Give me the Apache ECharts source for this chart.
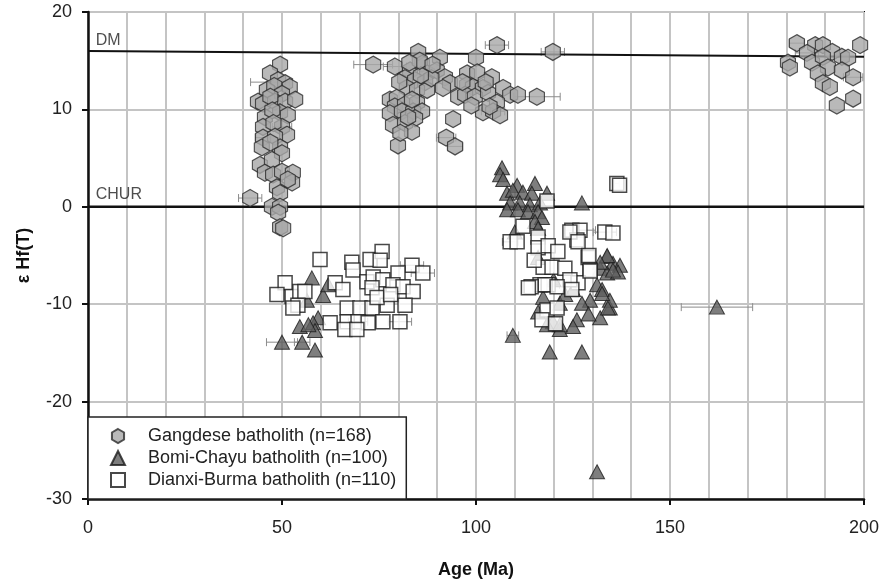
<!DOCTYPE html>
<html>
<head>
<meta charset="utf-8">
<script src="https://cdn.jsdelivr.net/npm/echarts@6/dist/echarts.min.js"></script>
<style>
  html, body { margin: 0; padding: 0; background: #fff; }
  #chart { width: 884px; height: 579px; }
</style>
</head>
<body>
<div id="chart"></div>
<script>
// age (Ma), eHf(T)
var gangdese = [
  [49.5,14.6],[46.9,13.7],[49,13.0],[50.8,12.7],[52,12.3],[46.1,12.0],[48,12.4],[50,11.6],
  [43.8,10.8],[45.1,10.6],[48.2,10.8],[50.8,10.8],[53.4,11.0],[47,11.3],
  [45.6,9.2],[49.5,9.7],[51.5,9.4],[47.5,9.9],[45.1,8.2],[50,8.2],[51.3,7.4],[47.8,8.6],
  [45.1,7.1],[48.2,7.2],[44.8,6.1],[49.5,6.1],[50,5.5],[47,6.6],
  [44.3,4.3],[47.4,4.8],[45.6,3.5],[47.7,3.3],[50,3.6],[52.8,3.5],[52.6,2.5],[48.7,2.0],
  [49.5,1.4],[41.8,0.9],[47.4,0.0],[49.5,0.0],[49,-0.6],[49.5,-2.1],[50.3,-2.2],[51.5,2.8],
  [73.5,14.6],[79.1,14.4],[85.1,15.9],[90.7,15.3],[100,15.3],[105.4,16.6],[119.8,15.9],
  [83,14.0],[86.1,14.7],[87.4,13.7],[89.9,14.0],[92,13.3],[93.3,12.7],[81.7,13.2],[84.3,13.0],
  [86.9,12.8],[82.2,12.2],[84.8,12.0],[87.4,12.0],[97.7,13.7],[100.3,13.8],[104.1,13.3],
  [97.7,12.5],[99.2,12.3],[101.8,12.2],[95.4,11.3],[97.2,11.5],[99.7,11.3],[103.1,11.7],
  [107,12.2],[108.8,11.5],[110.8,11.5],[115.7,11.3],[105.4,10.7],[101.8,9.7],[104.4,9.8],
  [106.2,9.4],[77.8,11.0],[79.6,11.2],[79.1,10.3],[81.7,10.5],[84.8,10.7],[77.8,9.6],
  [80.9,9.8],[83.8,9.8],[86.1,9.8],[78.6,8.4],[81.7,8.6],[84.3,9.1],[83.5,7.7],[79.9,6.3],
  [94.1,9.0],[92.3,7.1],[94.6,6.2],[88.5,13.2],[83.5,11.0],[85.8,13.5],
  [85.5,15.0],[88.8,14.6],[91.5,12.2],[80.2,12.8],[82.8,14.8],[96.5,12.8],[102.5,12.8],
  [98.8,10.4],[103.5,10.3],[80.5,7.6],[82.5,9.2],
  [182.7,16.8],[187.4,16.6],[189.4,16.6],[199,16.6],[185.3,15.8],[191.8,15.9],[194.3,15.4],
  [195.9,15.3],[180.4,14.8],[180.9,14.3],[186.6,14.8],[189.4,15.4],[190.7,14.3],[194.3,14.0],
  [188.1,13.7],[197.2,13.3],[189.4,12.7],[191.2,12.3],[197.2,11.1],[193,10.4]
];
var bomiChayu = [
  [106.7,4.0],[106.2,3.3],[107,2.8],[110.6,2.2],[115.2,2.4],[108,1.4],[109.5,1.7],[112.1,1.5],
  [114.4,1.4],[118.3,1.4],[108.8,0.4],[111.3,0.4],[113.9,0.2],[116.5,0.4],[127.3,0.4],
  [108,-0.3],[110.8,-0.3],[113.4,-0.5],[116,-0.5],[117,-1.1],[115.2,-1.5],[116,-2.2],
  [110,-2.6],[116,-5.2],[133.8,-5.1],[135.3,-5.8],[137.1,-6.0],[132,-6.3],[133.8,-6.8],
  [136.6,-6.7],[117.3,-9.3],[131.2,-8.0],[132.5,-8.5],[121.6,-9.9],[116,-10.8],[119.8,-11.8],
  [121.6,-12.6],[126,-11.6],[125,-12.3],[132,-11.4],[134.5,-10.4],[134.5,-9.6],[132.5,-8.9],
  [129.4,-9.6],[127.3,-9.9],[109.5,-13.2],[119,-14.9],[127.3,-14.9],[162.1,-10.3],[131.2,-27.2],
  [133.8,-5.0],[132,-5.7],[135.3,-6.5],[134,-10.4],[121.6,-12.1],[118.3,-12.1],
  [120,-7.5],[123,-9.0],[125,-8.5],[129,-11.0],
  [57.7,-7.3],[60.6,-9.1],[61.9,-8.0],[59.3,-11.4],[58,-11.9],[54.6,-12.3],[58.5,-12.7],
  [50,-13.9],[55.2,-13.9],[58.5,-14.7],[56.4,-9.6],[56.8,-12.1]
];
var dianxiBurma = [
  [59.8,-5.4],[50.8,-7.8],[48.7,-9.0],[52.6,-9.2],[54.6,-8.7],[55.9,-8.7],[54.1,-10.1],
  [52.8,-10.4],[63.7,-7.8],[65.7,-8.5],[68,-5.7],[68.3,-6.5],[72.7,-5.4],[75.8,-4.6],
  [75.3,-5.5],[83.5,-6.0],[86.3,-6.8],[79.9,-6.8],[71.9,-7.7],[73.5,-7.2],[76,-7.5],
  [78.6,-8.0],[73.2,-8.3],[81.2,-8.2],[83.8,-8.7],[66.8,-10.4],[70.1,-10.4],[73.2,-10.4],
  [77.1,-10.1],[81.7,-10.1],[62.4,-11.9],[66.8,-11.8],[69.6,-11.8],[72.2,-11.9],[76,-11.8],
  [80.4,-11.8],[66.2,-12.6],[69.3,-12.6],[74.5,-9.3],[78,-9.0],
  [136.3,2.4],[137,2.2],[118.3,0.6],[112.1,-2.0],[108.8,-3.6],[110.6,-3.6],[116,-3.1],
  [116,-4.2],[118.6,-4.0],[121.1,-4.6],[124.7,-2.4],[126.8,-2.4],[126,-3.4],[133.2,-2.6],
  [135.3,-2.7],[128.9,-5.2],[117.3,-6.2],[119.6,-6.2],[122.9,-6.3],[129.4,-6.5],[116.5,-8.0],
  [118.6,-8.0],[126.3,-7.8],[124.2,-7.5],[124.2,-2.6],[126.3,-3.6],[129.1,-5.0],[129.4,-6.6],
  [117.8,-8.0],[120.9,-8.2],[124.7,-8.5],[118.3,-10.6],[120.9,-10.4],[114.2,-8.2],
  [117,-11.6],[113.5,-8.3],[120.5,-12.0],[115,-5.5]
];
// horizontal 2-sigma error bars: age, eHf, +/- Ma
var gangdeseErr = [[41.8,0.9,3],[46.9,12.8,5],[73.5,14.6,5],[115.7,11.3,6],[105.4,16.6,3],
  [119.8,15.9,3],[182.7,16.8,2],[79.1,14.4,3],[92.3,7.1,2.5],[94.6,6.2,2],[104.4,9.8,3],
  [50,8.2,2.5],[45.1,7.1,2],[185.3,15.8,3],[197.2,13.3,2.5]];
var bomiErr = [[162.1,-10.3,9.2],[50,-13.9,4],[109.5,-13.2,1.5],[55.2,-13.9,2]];
var dianxiErr = [[136.3,2.4,0.6],[126.8,-2.4,4],[133.2,-2.6,3],[118,-8,3.5],[83.5,-6.0,3],
  [86.3,-6.8,3],[69.6,-11.8,2.5],[80.4,-11.8,3],[108.8,-3.6,2]];
var dmLine = [[0,16],[200,15.4]];
var churLine = [[0,0],[200,0]];
var refLabels = [[2,17.1,'DM'],[2,1.3,'CHUR']];
var seriesNames = ['Gangdese batholith (n=168)','Bomi-Chayu batholith (n=100)','Dianxi-Burma batholith (n=110)'];

var hexagon = 'path://M0,-1L0.866,-0.5L0.866,0.5L0,1L-0.866,0.5L-0.866,-0.5Z';
var chart;

function errBars(data) {
  return {
    type: 'custom',
    silent: true,
    z: 1,
    data: data,
    renderItem: function (params, api) {
      var x = api.value(0), y = api.value(1), e = api.value(2);
      var a = api.coord([x - e, y]);
      var b = api.coord([x + e, y]);
      var st = { stroke: '#8c8c8c', lineWidth: 1 };
      return {
        type: 'group',
        children: [
          { type: 'line', shape: { x1: a[0], y1: a[1], x2: b[0], y2: b[1] }, style: st },
          { type: 'line', shape: { x1: a[0], y1: a[1] - 4, x2: a[0], y2: a[1] + 4 }, style: st },
          { type: 'line', shape: { x1: b[0], y1: b[1] - 4, x2: b[0], y2: b[1] + 4 }, style: st }
        ]
      };
    }
  };
}

function initChart() {
  chart = echarts.init(document.getElementById('chart'));
  var font = 'Liberation Sans, Arial, sans-serif';
  var option = {
    animation: false,
    backgroundColor: '#fff',
    textStyle: { fontFamily: font },
    grid: {
      left: 88, right: 20, top: 12, bottom: 80,
      containLabel: false, outerBoundsMode: 'none',
      show: true, borderColor: '#111', borderWidth: 2, backgroundColor: 'transparent'
    },
    legend: {
      data: seriesNames,
      orient: 'vertical',
      left: 88, top: 417,
      backgroundColor: '#fff',
      borderColor: '#222', borderWidth: 1.5, borderRadius: 0,
      padding: [8, 10, 8, 22],
      itemGap: 0,
      itemWidth: 14, itemHeight: 14,
      textStyle: { fontSize: 18, color: '#222', lineHeight: 22, padding: [0, 0, 0, 18], fontFamily: font }
    },
    xAxis: {
      type: 'value',
      min: 0, max: 200, interval: 50,
      name: 'Age (Ma)',
      nameLocation: 'middle',
      nameGap: 62,
      nameTextStyle: { fontSize: 18, fontWeight: 'bold', color: '#111' },
      axisLine: { show: true, onZero: false, lineStyle: { color: '#111', width: 2.5 } },
      axisTick: { show: true, length: 6, lineStyle: { color: '#111', width: 2 } },
      axisLabel: { fontSize: 18, color: '#222', margin: 20 },
      splitLine: { show: true, lineStyle: { color: '#c4c4c4', width: 2 } },
      minorTick: { show: false, splitNumber: 5 },
      minorSplitLine: { show: true, lineStyle: { color: '#c4c4c4', width: 2 } }
    },
    yAxis: {
      type: 'value',
      min: -30, max: 20, interval: 10,
      name: 'ε Hf(T)',
      nameLocation: 'middle',
      nameGap: 55,
      nameTextStyle: { fontSize: 18, fontWeight: 'bold', color: '#111' },
      axisLine: { show: true, onZero: false, lineStyle: { color: '#111', width: 2.5 } },
      axisTick: { show: true, length: 6, lineStyle: { color: '#111', width: 2 } },
      axisLabel: { fontSize: 18, color: '#222', margin: 16 },
      splitLine: { show: true, lineStyle: { color: '#c4c4c4', width: 2 } }
    },
    series: [
      errBars(gangdeseErr),
      errBars(bomiErr),
      errBars(dianxiErr),
      {
        type: 'line', data: dmLine, symbol: 'none', silent: true, z: 3,
        lineStyle: { color: '#111', width: 2 }
      },
      {
        type: 'line', data: churLine, symbol: 'none', silent: true, z: 3,
        lineStyle: { color: '#111', width: 2.5 }
      },
      {
        type: 'scatter', data: refLabels, symbolSize: 0, silent: true, z: 4,
        label: {
          show: true, position: 'right', distance: 0,
          fontSize: 16, color: '#222',
          formatter: function (p) { return p.value[2]; }
        }
      },
      {
        name: seriesNames[1], type: 'scatter', data: bomiChayu, z: 5,
        symbol: 'triangle', symbolSize: [15, 14],
        itemStyle: { color: '#5e5e5e', borderColor: '#1a1a1a', borderWidth: 1 }
      },
      {
        name: seriesNames[2], type: 'scatter', data: dianxiBurma, z: 6,
        symbol: 'rect', symbolSize: 14,
        itemStyle: { color: '#fff', borderColor: '#1a1a1a', borderWidth: 1.5 }
      },
      {
        name: seriesNames[0], type: 'scatter', data: gangdese, z: 7,
        symbol: hexagon, symbolSize: [15, 17],
        itemStyle: { color: '#a8a8a8', borderColor: '#2a2a2a', borderWidth: 1.2 }
      }
    ]
  };
  chart.setOption(option);
}

initChart();
</script>
</body>
</html>
